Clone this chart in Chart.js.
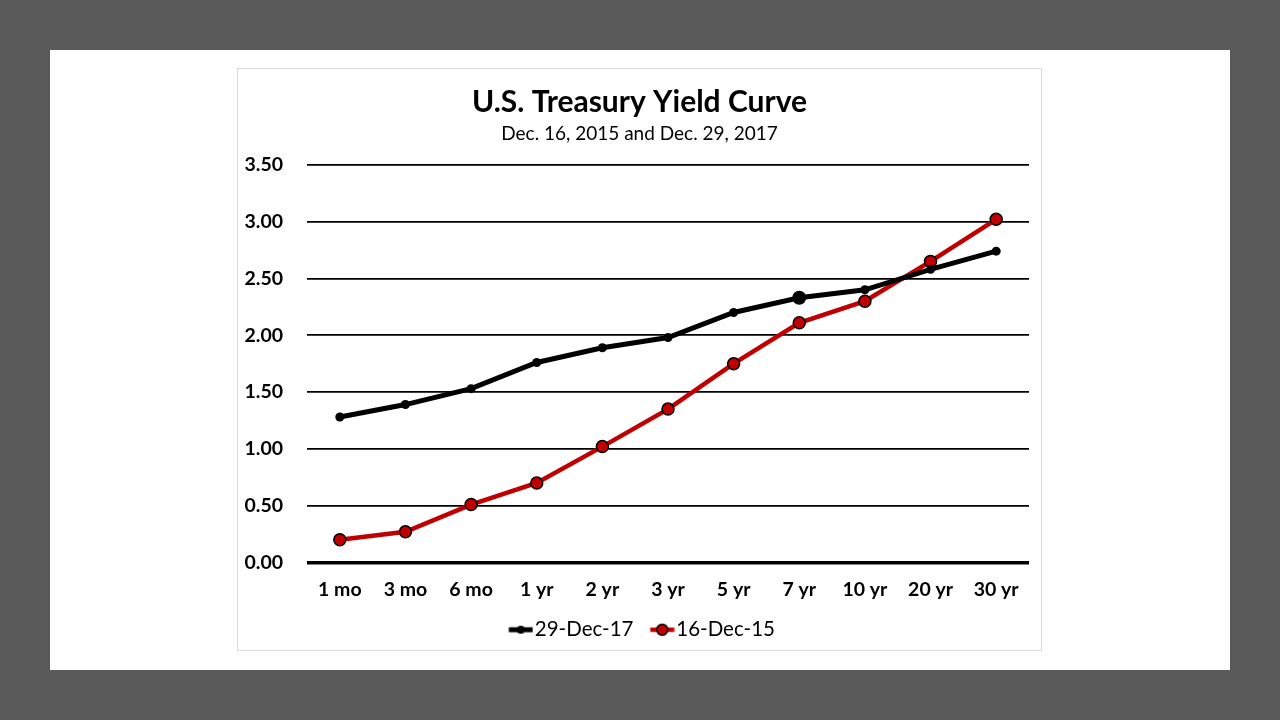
<!DOCTYPE html>
<html><head><meta charset="utf-8">
<script src="https://cdn.jsdelivr.net/npm/chart.js@4.4.1/dist/chart.umd.min.js"></script>
<style>
html,body{margin:0;padding:0;background:#595959;width:1280px;height:720px;overflow:hidden;}
#sheet{position:absolute;left:50px;top:50px;width:1180px;height:620px;background:#fff;}
#box{position:absolute;left:237px;top:68px;width:803px;height:581px;border:1px solid #d9d9d9;background:#fff;}
canvas{display:block;}
</style></head><body>
<div id="sheet"></div>
<div id="box"><canvas id="c" width="803" height="581"></canvas></div>
<script>
const categories = ["1 mo","3 mo","6 mo","1 yr","2 yr","3 yr","5 yr","7 yr","10 yr","20 yr","30 yr"];
const dec2017 = [1.28,1.39,1.53,1.76,1.89,1.98,2.20,2.33,2.40,2.58,2.74];
const dec2015 = [0.20,0.27,0.51,0.70,1.02,1.35,1.75,2.11,2.30,2.65,3.02];
const yTicks = [0,0.5,1,1.5,2,2.5,3,3.5];
const FONT = "Lato, 'Open Sans', sans-serif";

function legendIcon(color, r, border, lw){
  const cv = document.createElement('canvas');
  cv.width = 38; cv.height = 16;
  const g = cv.getContext('2d');
  g.strokeStyle = color; g.lineWidth = lw; g.lineCap='butt';
  g.beginPath(); g.moveTo(13.5,8); g.lineTo(37.5,8); g.stroke();
  g.beginPath(); g.arc(25.5,8,r,0,Math.PI*2); g.fillStyle=color; g.fill();
  if(border){g.lineWidth=1.5; g.strokeStyle='#000'; g.stroke();}
  return cv;
}
const iconBlack = legendIcon('#000',4,false,5);
const iconRed = legendIcon('#c00000',5.5,true,4.5);

new Chart(document.getElementById('c'),{
  type:'line',
  data:{labels:categories,datasets:[
    {label:'29-Dec-17',data:dec2017,borderColor:'#000',backgroundColor:'#000',borderWidth:5,
     pointRadius:(ctx)=>ctx.dataIndex===7?7:4.5,pointBackgroundColor:'#000',pointBorderWidth:0,pointStyle:'circle',tension:0},
    {label:'16-Dec-15',data:dec2015,borderColor:'#c00000',backgroundColor:'#c00000',borderWidth:4.5,
     pointRadius:6,pointBackgroundColor:'#c00000',pointBorderColor:'#000',pointBorderWidth:1.5,tension:0}
  ]},
  options:{
    responsive:false,animation:false,
    layout:{padding:{left:0,right:0,top:15,bottom:0}},
    plugins:{
      title:{display:true,text:'U.S. Treasury Yield Curve',color:'#000',font:{family:FONT,size:30,weight:'bold'},padding:{top:0,bottom:2}},
      subtitle:{display:true,text:'Dec. 16, 2015 and Dec. 29, 2017',color:'#000',font:{family:FONT,size:19},padding:{top:0,bottom:20}},
      legend:{position:'bottom',labels:{color:'#000',font:{family:FONT,size:20.5},usePointStyle:true,
        generateLabels:(chart)=>chart.data.datasets.map((d,i)=>({text:d.label,datasetIndex:i,pointStyle:i===0?iconBlack:iconRed,fontColor:'#000',lineWidth:0,strokeStyle:'transparent',fillStyle:'transparent'})),
        padding:12,boxWidth:23,boxHeight:14}},
      tooltip:{enabled:false}
    },
    scales:{
      x:{offset:true,grid:{display:false,drawTicks:false},border:{display:false},
         afterFit:(s)=>{s.height=45;},
         ticks:{color:'#000',font:{family:FONT,size:19.5,weight:'bold'},padding:16}},
      y:{min:0,max:3.5,afterBuildTicks:(s)=>{s.ticks=yTicks.map(v=>({value:v}));},
         afterFit:(s)=>{s.width=69;},
         grid:{color:'#000',lineWidth:(ctx)=>ctx.tick&&ctx.tick.value===0?3.5:1.8,drawTicks:false},
         border:{display:false},
         ticks:{color:'#000',font:{family:FONT,size:19.5,weight:'bold'},padding:24,callback:(v)=>Number(v).toFixed(2)}},
      yRight:{position:'right',min:0,max:3.5,grid:{display:false,drawTicks:false},border:{display:false},
         ticks:{display:false},afterFit:(s)=>{s.width=12;}}
    }
  }
});
</script>
</body></html>
